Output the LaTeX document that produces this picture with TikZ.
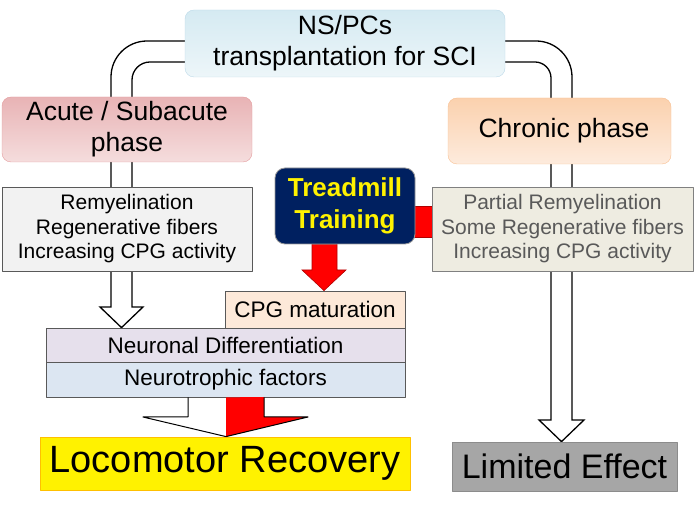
\documentclass[tikz,border=0pt]{standalone}
\usepackage{fontspec}
\setmainfont{Liberation Sans}
\usetikzlibrary{backgrounds}
\definecolor{srctop}{HTML}{D5EAF2}
\definecolor{srcbot}{HTML}{EDF6F9}
\definecolor{srcline}{HTML}{BCD9E8}
\definecolor{acutetop}{HTML}{E8B3B5}
\definecolor{acutebot}{HTML}{F5DDDD}
\definecolor{acuteline}{HTML}{E49C9E}
\definecolor{chrontop}{HTML}{FBD1AE}
\definecolor{chronbot}{HTML}{FDEBDD}
\definecolor{chronline}{HTML}{F8C092}
\definecolor{navy}{HTML}{002060}
\definecolor{paleorange}{HTML}{FDE9D9}
\definecolor{palepurple}{HTML}{E6E0EC}
\definecolor{paleblue}{HTML}{DCE6F2}
\definecolor{palebeige}{HTML}{EEECE1}
\definecolor{boxline}{HTML}{595959}
\definecolor{darkred}{HTML}{B00000}
\definecolor{gold}{HTML}{FFC000}
\begin{document}
\begin{tikzpicture}[x=1pt,y=-1pt,line join=round,
	phase/.style={rounded corners=9pt,align=center,inner sep=0pt,font=\fontsize{26.5}{31}\selectfont},
	infobox/.style={draw=boxline,line width=0.8pt,align=center,inner sep=0pt,font=\fontsize{21}{24.5}\selectfont},
	barbox/.style={draw=boxline,line width=0.8pt,inner sep=0pt,font=\fontsize{22.5}{24}\selectfont},
	pipe/.style={line width=1.3pt},
	redarrow/.style={fill=red,draw=darkred,line width=0.6pt}]
	\useasboundingbox (0,0) rectangle (697,510);
	% boxes
	\node[phase,draw=srcline,top color=srctop,bottom color=srcbot,minimum width=320pt,minimum height=67pt] (src) at (345,43.5) {NS/PCs\\transplantation for SCI};
	\node[phase,draw=acuteline,top color=acutetop,bottom color=acutebot,minimum width=250pt,minimum height=65pt] (acute) at (127,129.5) {Acute / Subacute\\phase};
	\node[phase,draw=chronline,top color=chrontop,bottom color=chronbot,minimum width=223pt,minimum height=66pt] (chron) at (559.5,131) {\makebox[9pt]{}Chronic phase};
	\node[infobox,fill=black!5,minimum width=250pt,minimum height=84pt] (remy) at (127,229) {Remyelination\\Regenerative fibers\\Increasing CPG activity};
	\node[infobox,fill=palebeige,draw=black!50,text=boxline,minimum width=261pt,minimum height=84pt] (part) at (562.5,229) {Partial Remyelination\\Some Regenerative fibers\\Increasing CPG activity};
	\node[rounded corners=10pt,fill=navy,draw=black!40,line width=0.8pt,text=yellow,align=center,inner sep=0pt,font=\fontsize{26}{32}\selectfont\bfseries,minimum width=140pt,minimum height=76pt] (tread) at (345,206) {Treadmill\\Training};
	\node[barbox,fill=paleorange,minimum width=180pt,minimum height=37pt] (cpg) at (315,309.5) {CPG maturation};
	\node[barbox,fill=palepurple,minimum width=359pt,minimum height=34pt] (neur) at (225.5,345) {Neuronal Differentiation};
	\node[barbox,fill=paleblue,minimum width=359pt,minimum height=35pt] (troph) at (225.5,379.5) {Neurotrophic factors};
	\node[fill=yellow,draw=gold,line width=0.8pt,inner sep=0pt,font=\fontsize{38}{40}\selectfont,minimum width=370pt,minimum height=53pt] (loco) at (225,463.5) {Locomotor Recovery};
	\node[fill=black!35,draw=black!45,line width=0.8pt,inner sep=0pt,font=\fontsize{34}{36}\selectfont,minimum width=225pt,minimum height=49pt] (lim) at (564.5,466.5) {Limited Effect};
	\begin{scope}[on background layer]
		% hollow pipes
		\draw[pipe,rounded corners=36pt] (src.west |- 0,41) -- (111,41) -- (111,150);
		\draw[pipe,rounded corners=18pt] (src.west |- 0,62) -- (132,62) -- (132,150);
		\draw[pipe] (111,140) -- (111,307) -- (100,307) -- (neur.north -| 121.5,0) -- (143,307) -- (132,307) -- (132,140);
		\draw[pipe,rounded corners=36pt] (src.east |- 0,41) -- (572,41) -- (572,150);
		\draw[pipe,rounded corners=16pt] (src.east |- 0,62) -- (551,62) -- (551,150);
		\draw[pipe] (572,140) -- (572,420) -- (584,420) -- (lim.north -| 561.5,0) -- (539,420) -- (551,420) -- (551,140);
		% red arrows from training
		\draw[redarrow] (tread.south -| 312,0) -- (312,270) -- (302,270) -- (cpg.north -| 324,0) -- (346,270) -- (337,270) -- (tread.south -| 337,0) -- cycle;
		\draw[redarrow] (410,206) rectangle (436,237);
	\end{scope}
	% split arrow to recovery
	\fill[red] (troph.south -| 226,0) -- (264,397) -- (264,417) -- (308,417) -- (loco.north -| 226,0) -- cycle;
	\draw[line width=1pt] (troph.south -| 188,0) -- (188,417) -- (143,417) -- (loco.north -| 226,0) -- (308,417) -- (264,417) -- (troph.south -| 264,0);
\end{tikzpicture}
\end{document}
